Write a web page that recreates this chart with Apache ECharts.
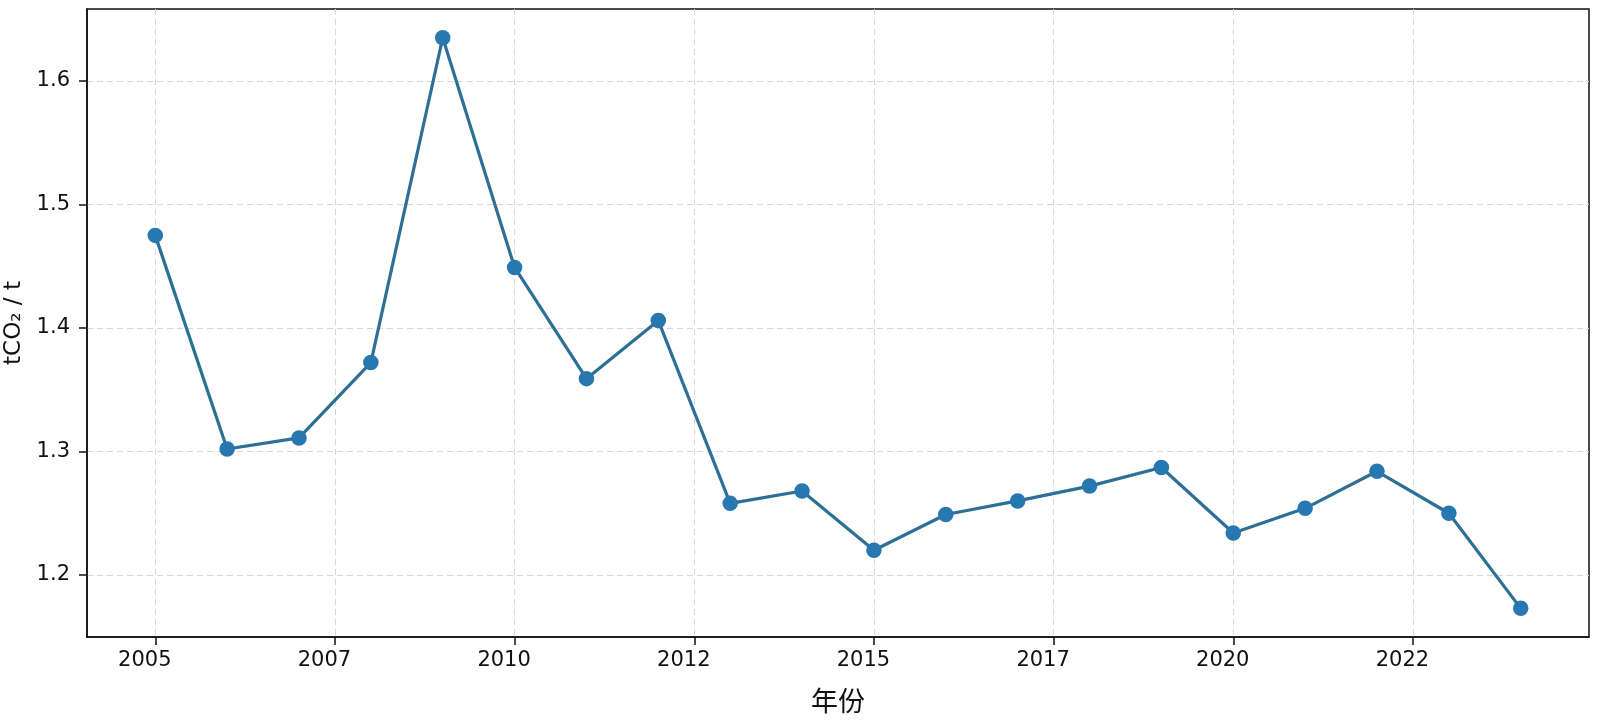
<!DOCTYPE html>
<html>
<head>
<meta charset="utf-8">
<script src="https://cdn.jsdelivr.net/npm/echarts@6/dist/echarts.min.js"></script>
<style>
html, body { margin: 0; padding: 0; background: #fff; }
#chart { width: 1599px; height: 720px; }
</style>
</head>
<body>
<div id="chart"></div>
<script>
// 年份与排放强度 (tCO2 / t)
var years = [2005, 2006, 2007, 2008, 2009, 2010, 2011, 2012, 2013, 2014,
  2015, 2016, 2017, 2018, 2019, 2020, 2021, 2022, 2023, 2024]
var values = [1.475, 1.302, 1.311, 1.372, 1.635, 1.449, 1.359, 1.406, 1.258, 1.268,
  1.220, 1.249, 1.260, 1.272, 1.287, 1.234, 1.254, 1.284, 1.250, 1.173]
var xTickValues = [2005, 2007.5, 2010, 2012.5, 2015, 2017.5, 2020, 2022.5]
var xTickLabels = ['2005', '2007', '2010', '2012', '2015', '2017', '2020', '2022']
var yTickValues = [1.2, 1.3, 1.4, 1.5, 1.6]
var yTickLabels = ['1.2', '1.3', '1.4', '1.5', '1.6']

var myChart = echarts.init(document.getElementById('chart'))

var gridLine = {
  show: true,
  lineStyle: { color: '#d6d6d6', type: [6, 4], width: 1 }
}

var option = {
  animation: false,
  grid: {
    left: 87,
    right: 10,
    top: 9,
    bottom: 83,
    outerBoundsMode: 'none',
    containLabel: false,
    show: true,
    borderColor: '#111',
    borderWidth: 1.5,
    backgroundColor: 'transparent'
  },
  xAxis: {
    type: 'value',
    min: 2004.05,
    max: 2024.95,
    name: '年份',
    nameLocation: 'middle',
    nameGap: 50,
    nameTextStyle: {
      fontFamily: 'Noto Sans CJK SC',
      fontSize: 27,
      color: '#111'
    },
    axisLine: { show: true, lineStyle: { color: '#111', width: 1.5 } },
    axisTick: {
      show: true,
      length: 8,
      customValues: xTickValues,
      lineStyle: { color: '#111', width: 1.5 }
    },
    axisLabel: {
      customValues: xTickValues,
      margin: 13,
      padding: [0, 21, 0, 0],
      fontFamily: 'DejaVu Sans',
      fontSize: 21,
      color: '#111',
      formatter: function (v) {
        var i = xTickValues.indexOf(v)
        return i >= 0 ? xTickLabels[i] : ''
      }
    },
    splitLine: gridLine
  },
  yAxis: {
    type: 'value',
    min: 1.1498,
    max: 1.6583,
    name: 'tCO₂ / t',
    nameLocation: 'middle',
    nameGap: 60,
    nameTextStyle: {
      fontFamily: 'DejaVu Sans',
      fontSize: 23,
      color: '#111'
    },
    axisLine: { show: true, lineStyle: { color: '#111', width: 1.5 } },
    axisTick: {
      show: true,
      length: 8,
      customValues: yTickValues,
      lineStyle: { color: '#111', width: 1.5 }
    },
    axisLabel: {
      customValues: yTickValues,
      margin: 17,
      fontFamily: 'DejaVu Sans',
      fontSize: 21,
      color: '#111',
      formatter: function (v) {
        var i = yTickValues.indexOf(v)
        return i >= 0 ? yTickLabels[i] : ''
      }
    },
    splitLine: gridLine
  },
  series: [
    {
      type: 'line',
      data: years.map(function (y, i) { return [y, values[i]] }),
      symbol: 'circle',
      symbolSize: 15.5,
      lineStyle: { color: '#2e6f96', width: 3.2 },
      itemStyle: { color: '#2777b1' }
    }
  ]
}

myChart.setOption(option)
window.onresize = function () {
  myChart.resize()
}
</script>
</body>
</html>
